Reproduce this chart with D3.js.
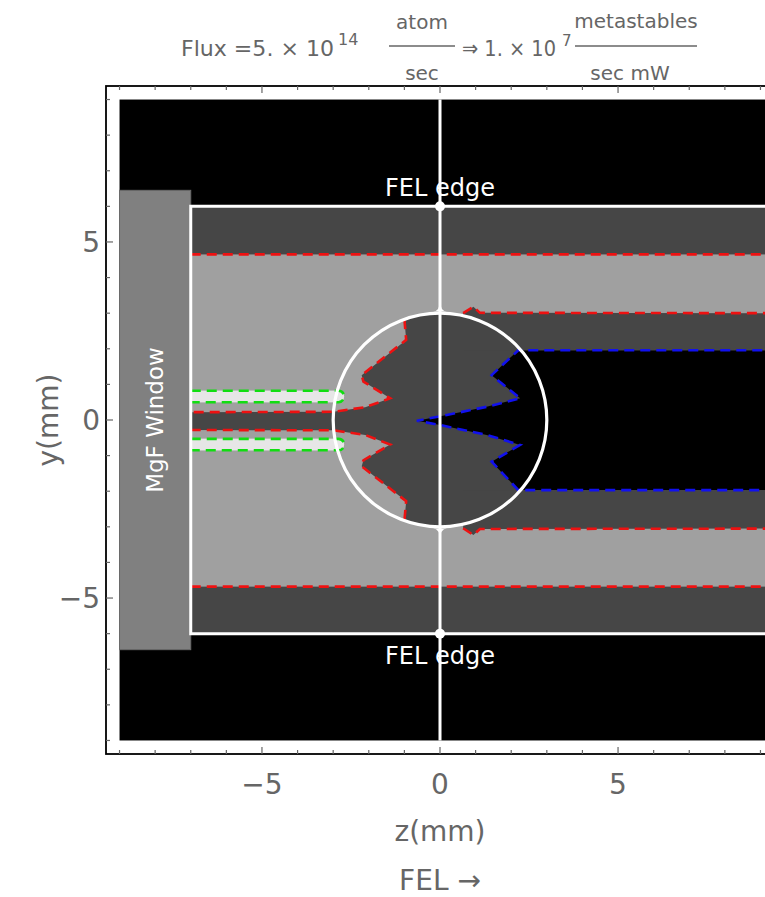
<!DOCTYPE html>
<html>
<head>
<meta charset="utf-8">
<script src="https://cdn.jsdelivr.net/npm/d3@7"></script>
<style>
  body { margin: 0; background: #fff; }
  text { font-family: "DejaVu Sans", "Liberation Sans", Arial, sans-serif; }
</style>
</head>
<body>
<div id="chart"></div>
<script>
// values (mm)
const zTicks = [-5, 0, 5];
const yTicks = [-5, 0, 5];
const minorTicks = d3.range(-9, 10, 1);

const fieldExtent = [-9, 9.5];          // meshed region
const windowZ = [-9, -7];               // MgF window
const windowY = [-6.45, 6.45];
const felEdge = 6;                      // white beam box half height
const lightBand = [-4.68, 4.65];        // red dashed outer contour
const circleR = 3;

// left red contour (upper and lower)
const redUpper = [[-1.0, 2.83], [-0.95, 2.25], [-2.2, 1.26], [-2.15, 1.08], [-1.4, 0.61], [-2.1, 0.36], [-3.0, 0.23], [-7, 0.22]];
const redLower = [[-7, -0.28], [-3.0, -0.29], [-2.1, -0.42], [-1.4, -0.69], [-2.15, -1.13], [-2.2, -1.3], [-0.95, -2.28], [-1.0, -2.83]];

// right red steps (dark band edge)
const redRightUpper = [[0.65, 3.0], [0.94, 3.18], [1.12, 3.01], [9.5, 3.0]];
const redRightLower = [[0.65, -3.04], [0.94, -3.23], [1.12, -3.06], [9.5, -3.05]];

// blue contour (black region)
const blueContour = [[9.5, 1.96], [2.2, 1.96], [1.45, 1.26], [2.25, 0.61], [1.31, 0.37], [0.19, 0.14], [-0.65, -0.02],
  [0.0, -0.14], [1.31, -0.42], [2.25, -0.70], [1.45, -1.17], [2.2, -1.97], [9.5, -1.97]];

// green contours (light strips)
const greenBands = [[0.5, 0.82], [-0.85, -0.53]];
const greenEnd = [-7, -2.85];

const colBlack = "#000", colDark = "#464646", colLight = "#a0a0a0", colWindow = "#808080", colStrip = "#e6e6e6";

const W = 765, H = 897;
const svg = d3.select("#chart").append("svg").attr("width", W).attr("height", H);

const x = d3.scaleLinear().domain([-9.38, 9.38]).range([106, 774]);
const y = d3.scaleLinear().domain([-9.38, 9.38]).range([754, 86]);

const line = d3.line().x(d => x(d[0])).y(d => y(d[1]));

const defs = svg.append("defs");
defs.append("clipPath").attr("id", "plotClip").append("rect")
  .attr("x", x(-9.38)).attr("y", y(9.38)).attr("width", x(9.38) - x(-9.38)).attr("height", y(-9.38) - y(9.38));
const inner = defs.append("clipPath").attr("id", "innerClip");
inner.append("circle").attr("cx", x(0)).attr("cy", y(0)).attr("r", x(circleR) - x(0));
inner.append("rect").attr("x", x(-7)).attr("y", y(1)).attr("width", x(-2.6) - x(-7)).attr("height", y(-1) - y(1));

const g = svg.append("g").attr("clip-path", "url(#plotClip)");

// black field
g.append("rect")
  .attr("x", x(fieldExtent[0])).attr("y", y(9))
  .attr("width", x(fieldExtent[1]) - x(fieldExtent[0])).attr("height", y(-9) - y(9))
  .attr("fill", colBlack);

// dark band inside the FEL box
g.append("rect")
  .attr("x", x(-7)).attr("y", y(felEdge))
  .attr("width", x(fieldExtent[1]) - x(-7)).attr("height", y(-felEdge) - y(felEdge))
  .attr("fill", colDark);

// light band
g.append("rect")
  .attr("x", x(-7)).attr("y", y(lightBand[1]))
  .attr("width", x(fieldExtent[1]) - x(-7)).attr("height", y(lightBand[0]) - y(lightBand[1]))
  .attr("fill", colLight);

// dark region around the centre
const darkPoly = [[-1.0, 3.6], ...redUpper, ...redLower, [-1.0, -3.6], [3.6, -3.6], [3.6, 3.6]];
g.append("path").attr("d", line(darkPoly) + "Z")
  .attr("fill", colDark).attr("clip-path", "url(#innerClip)");

// dark bands on the right
[[redRightUpper, 1.96], [redRightLower, -1.97]].forEach(([edge, inner]) => {
  const poly = [...edge, [edge[edge.length - 1][0], inner], [edge[0][0], inner]];
  g.append("path").attr("d", line(poly) + "Z").attr("fill", colDark);
});

// black region (blue contour)
g.append("path").attr("d", line(blueContour) + "Z").attr("fill", colBlack);

const dashStyle = sel => sel.attr("stroke-width", 2.6).attr("stroke-dasharray", "10,6");

// light strips with green contour
greenBands.forEach(b => {
  const h = y(b[0]) - y(b[1]);
  g.append("rect")
    .attr("x", x(greenEnd[0])).attr("y", y(b[1]))
    .attr("width", x(greenEnd[1]) - x(greenEnd[0])).attr("height", h)
    .attr("fill", colStrip);
  const r = h / 2;
  const p = d3.path();
  p.moveTo(x(greenEnd[0]), y(b[1]));
  p.lineTo(x(greenEnd[1]), y(b[1]));
  p.arc(x(greenEnd[1]), y(b[1]) + r, r, -Math.PI / 2, Math.PI / 2);
  p.lineTo(x(greenEnd[0]), y(b[0]));
  g.append("path").attr("d", p.toString())
    .attr("fill", colStrip).attr("stroke", "#11dd11").call(dashStyle);
});

// dashed contours
const dashed = (pts, col) => g.append("path").attr("d", line(pts))
  .attr("fill", "none").attr("stroke", col).call(dashStyle);
dashed([[-7, lightBand[1]], [9.5, lightBand[1]]], "#ee1111");
dashed([[-7, lightBand[0]], [9.5, lightBand[0]]], "#ee1111");
dashed(redUpper, "#ee1111");
dashed(redLower, "#ee1111");
dashed(redRightUpper, "#ee1111");
dashed(redRightLower, "#ee1111");
dashed(blueContour, "#1111ee");

// MgF window
g.append("rect")
  .attr("x", x(windowZ[0])).attr("y", y(windowY[1]))
  .attr("width", x(windowZ[1]) - x(windowZ[0])).attr("height", y(windowY[0]) - y(windowY[1]))
  .attr("fill", colWindow).attr("stroke", "#6a6a6a").attr("stroke-width", 1);
g.append("text")
  .attr("transform", `translate(${x(-8) + 8},${y(0)}) rotate(-90)`)
  .attr("text-anchor", "middle").attr("fill", "#fff").attr("font-size", 23)
  .text("MgF Window");

// FEL box outline
g.append("path")
  .attr("d", line([[9.6, felEdge], [-7, felEdge], [-7, -felEdge], [9.6, -felEdge]]))
  .attr("fill", "none").attr("stroke", "#fff").attr("stroke-width", 3);

// centre line and circle
g.append("line")
  .attr("x1", x(0)).attr("x2", x(0)).attr("y1", y(9)).attr("y2", y(-9))
  .attr("stroke", "#fff").attr("stroke-width", 3);
g.append("circle")
  .attr("cx", x(0)).attr("cy", y(0)).attr("r", x(circleR) - x(0))
  .attr("fill", "none").attr("stroke", "#fff").attr("stroke-width", 3.2);
g.selectAll(".edgeDot").data([felEdge, -felEdge]).enter().append("circle")
  .attr("cx", x(0)).attr("cy", d => y(d)).attr("r", 5).attr("fill", "#fff");
g.selectAll(".joinDot").data([circleR, -circleR]).enter().append("path")
  .attr("d", d => {
    const s = Math.sign(d), cy = y(d + s * 0.05);
    return `M${x(0) - 7},${cy} Q${x(0)},${cy} ${x(0)},${cy - s * 12} Q${x(0)},${cy} ${x(0) + 7},${cy}Z`;
  })
  .attr("fill", "#fff");

// FEL edge labels
g.selectAll(".felLabel").data([felEdge + 0.3, -felEdge - 0.85]).enter().append("text")
  .attr("x", x(0)).attr("y", d => y(d))
  .attr("text-anchor", "middle").attr("fill", "#fff").attr("font-size", 24)
  .text("FEL edge");

// frame
const frame = svg.append("g");
frame.append("rect")
  .attr("x", x(-9.38)).attr("y", y(9.38)).attr("width", x(9.38) - x(-9.38)).attr("height", y(-9.38) - y(9.38))
  .attr("fill", "none").attr("stroke", "#000").attr("stroke-width", 1.8);

const tickCol = "#666";
minorTicks.forEach(t => {
  const len = t % 5 === 0 ? 7 : 4;
  frame.append("line").attr("x1", x(t)).attr("x2", x(t)).attr("y1", y(-9.38)).attr("y2", y(-9.38) - len).attr("stroke", tickCol).attr("stroke-width", 1.2);
  frame.append("line").attr("x1", x(t)).attr("x2", x(t)).attr("y1", y(9.38)).attr("y2", y(9.38) + len).attr("stroke", tickCol).attr("stroke-width", 1.2);
  frame.append("line").attr("y1", y(t)).attr("y2", y(t)).attr("x1", x(-9.38)).attr("x2", x(-9.38) + len).attr("stroke", tickCol).attr("stroke-width", 1.2);
});

const lab = "#666";
frame.selectAll(".zt").data(zTicks).enter().append("text")
  .attr("x", d => x(d)).attr("y", 794).attr("text-anchor", "middle")
  .attr("font-size", 28).attr("fill", lab).text(d => d < 0 ? "\u2212" + Math.abs(d) : d);
frame.selectAll(".yt").data(yTicks).enter().append("text")
  .attr("x", 100).attr("y", d => y(d) + 10).attr("text-anchor", "end")
  .attr("font-size", 28).attr("fill", lab).text(d => d < 0 ? "\u2212" + Math.abs(d) : d);

svg.append("text").attr("x", x(0)).attr("y", 841).attr("text-anchor", "middle")
  .attr("font-size", 28).attr("fill", lab).text("z(mm)");
svg.append("text").attr("x", x(0)).attr("y", 890).attr("text-anchor", "middle")
  .attr("font-size", 28).attr("fill", lab).text("FEL \u2192");
svg.append("text").attr("transform", `translate(58,${y(0)}) rotate(-90)`).attr("text-anchor", "middle")
  .attr("font-size", 28).attr("fill", lab).text("y(mm)");

// title
const title = svg.append("g").attr("fill", lab).attr("font-size", 22);
title.append("text").attr("x", 181).attr("y", 56).attr("textLength", 153).attr("lengthAdjust", "spacingAndGlyphs").text("Flux =5. \u00d7 10");
title.append("text").attr("x", 338).attr("y", 45).attr("font-size", 16).text("14");
title.append("text").attr("x", 422).attr("y", 29).attr("text-anchor", "middle").attr("font-size", 20).text("atom");
title.append("line").attr("x1", 389).attr("x2", 455).attr("y1", 46).attr("y2", 46).attr("stroke", lab).attr("stroke-width", 1.3);
title.append("text").attr("x", 422).attr("y", 80).attr("text-anchor", "middle").attr("font-size", 20).text("sec");
title.append("text").attr("x", 462).attr("y", 56).attr("textLength", 94).attr("lengthAdjust", "spacingAndGlyphs").text("\u21d2 1. \u00d7 10");
title.append("text").attr("x", 562).attr("y", 46).attr("font-size", 15).text("7");
title.append("text").attr("x", 636).attr("y", 28).attr("text-anchor", "middle").attr("font-size", 20).text("metastables");
title.append("line").attr("x1", 575).attr("x2", 697).attr("y1", 46).attr("y2", 46).attr("stroke", lab).attr("stroke-width", 1.3);
title.append("text").attr("x", 630).attr("y", 80).attr("text-anchor", "middle").attr("font-size", 20).text("sec mW");
</script>
</body>
</html>
